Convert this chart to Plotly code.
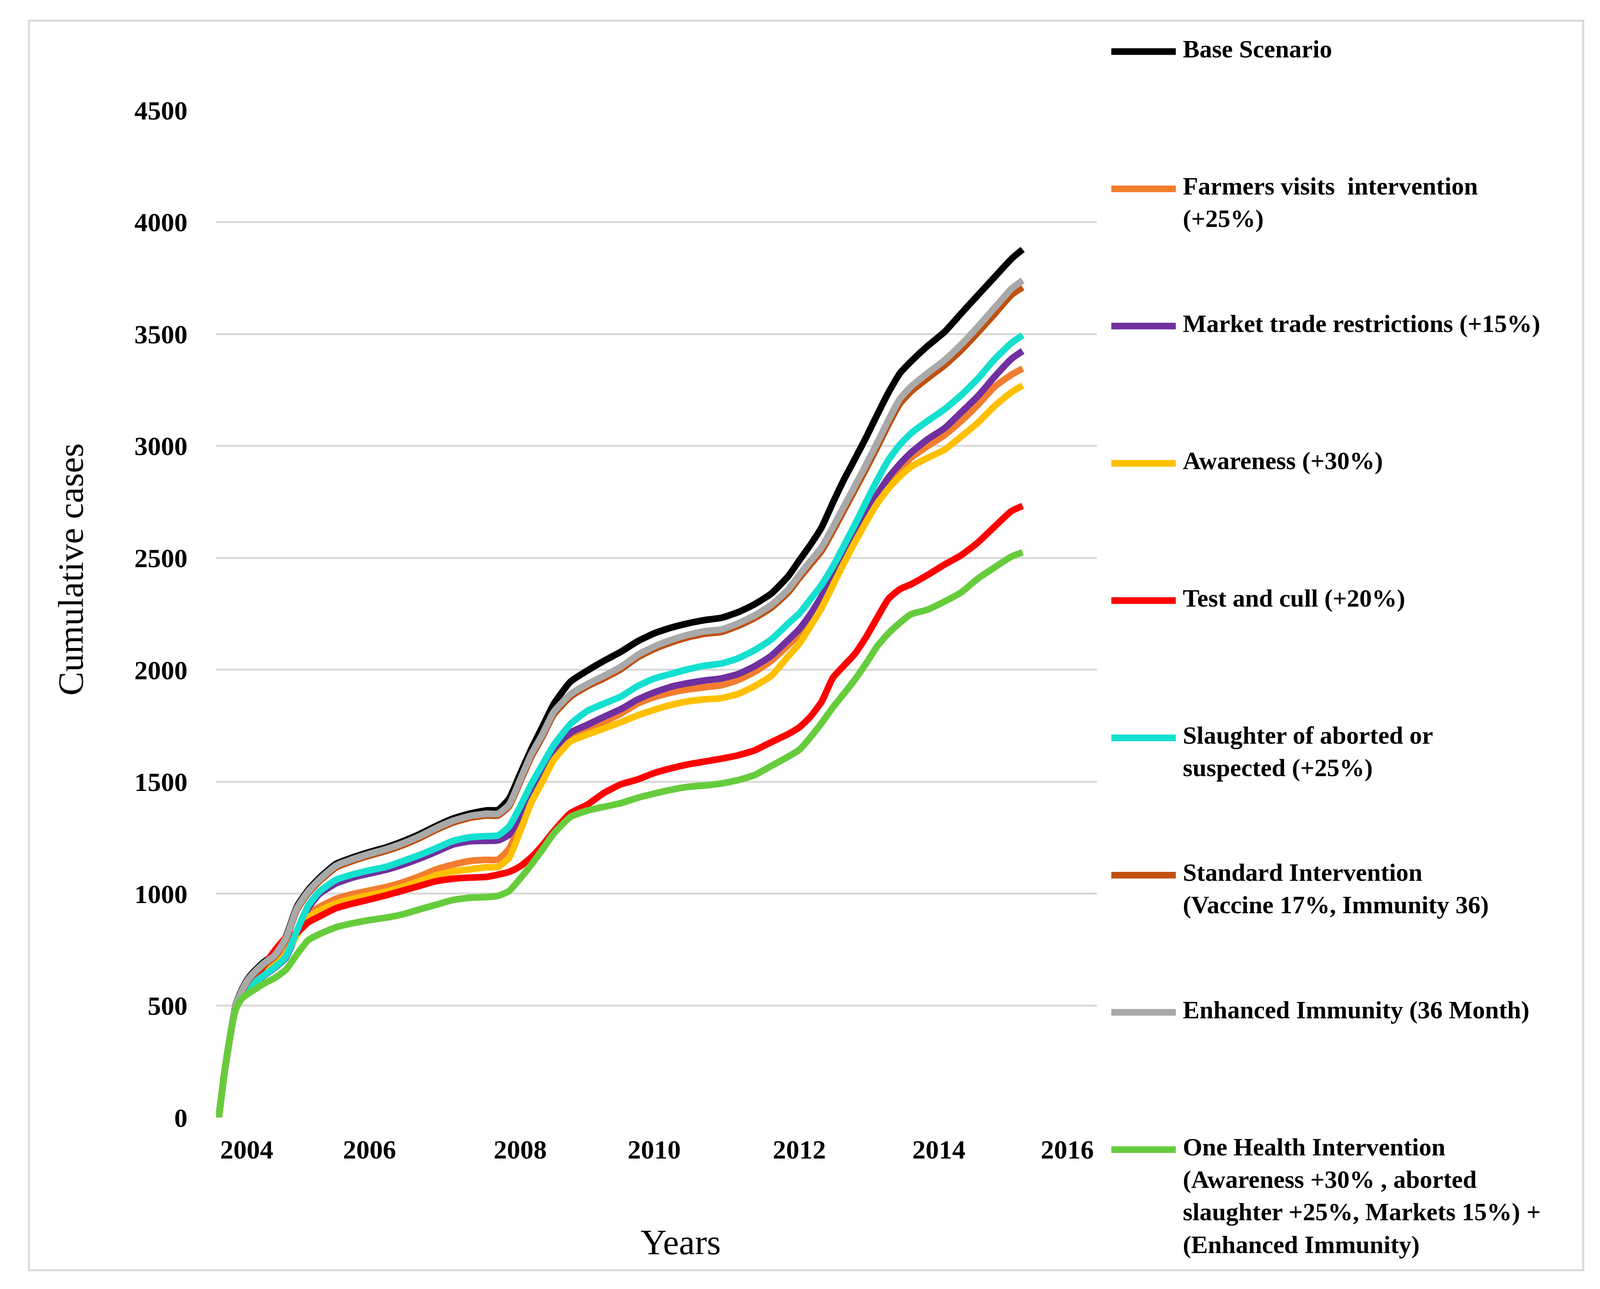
import plotly.graph_objects as go

# month index of every sampled point (category axis, one category per month)
months = [0, 1, 2, 3, 4, 5, 6, 8, 10, 12, 14, 16, 18, 21, 24, 27, 30, 33, 36, 39,
          42, 45, 48, 50, 52, 54, 56, 58, 60, 63, 66, 69, 72, 75, 78, 81, 84, 87, 90, 93,
          96, 99, 102, 104, 106, 108, 110, 112, 114, 116, 118, 120, 122, 124, 127, 130,
          133, 136, 139, 142, 144]

base_scenario = [0, 200, 360, 500, 565, 612, 645, 693, 730, 806, 942, 1016, 1070, 1133, 1162,
                 1186, 1207, 1234, 1266, 1303, 1336, 1358, 1372, 1374, 1424, 1536, 1647, 1747,
                 1847, 1947, 1996, 2040, 2080, 2127, 2163, 2188, 2207, 2222, 2232, 2257, 2293,
                 2341, 2418, 2489, 2559, 2637, 2746, 2850, 2944, 3040, 3142, 3240, 3324, 3377,
                 3447, 3509, 3592, 3674, 3755, 3836, 3878]
farmers_visits = [0, 200, 359, 490, 540, 570, 592, 640, 685, 735, 830, 909, 940, 977, 998,
                  1014, 1030, 1051, 1078, 1109, 1130, 1146, 1151, 1152, 1200, 1310, 1424, 1524,
                  1613, 1700, 1737, 1768, 1804, 1849, 1878, 1898, 1912, 1922, 1931, 1954, 1991,
                  2041, 2110, 2160, 2234, 2315, 2407, 2500, 2595, 2685, 2768, 2836, 2896, 2947,
                  3000, 3048, 3112, 3184, 3265, 3318, 3346]
market_trade = [0, 200, 359, 490, 544, 574, 594, 632, 668, 713, 825, 935, 998, 1046, 1072,
                1090, 1107, 1130, 1157, 1188, 1220, 1234, 1236, 1238, 1263, 1352, 1447, 1543,
                1624, 1719, 1754, 1790, 1824, 1867, 1899, 1924, 1940, 1952, 1961, 1981, 2016,
                2063, 2133, 2182, 2249, 2329, 2414, 2508, 2603, 2701, 2785, 2860, 2919, 2970,
                3030, 3079, 3150, 3223, 3310, 3389, 3424]
awareness = [0, 200, 359, 490, 540, 570, 590, 638, 680, 729, 815, 893, 924, 956, 977,
             993, 1009, 1030, 1056, 1083, 1099, 1109, 1118, 1120, 1160, 1280, 1408, 1502,
             1597, 1680, 1711, 1738, 1766, 1796, 1821, 1843, 1859, 1868, 1873, 1892, 1927,
             1974, 2060, 2117, 2195, 2277, 2377, 2477, 2572, 2662, 2745, 2811, 2864, 2907,
             2947, 2983, 3042, 3104, 3179, 3240, 3270]
test_and_cull = [0, 200, 359, 495, 550, 590, 610, 676, 745, 803, 825, 872, 898, 935, 956,
                 974, 993, 1014, 1035, 1056, 1067, 1072, 1075, 1085, 1097, 1122, 1163, 1217,
                 1279, 1360, 1397, 1450, 1488, 1510, 1539, 1560, 1577, 1590, 1603, 1618, 1640,
                 1677, 1713, 1743, 1791, 1858, 1964, 2019, 2073, 2148, 2235, 2318, 2360, 2382,
                 2424, 2470, 2512, 2569, 2640, 2709, 2732]
slaughter = [0, 200, 359, 490, 544, 576, 597, 634, 671, 718, 835, 946, 1009, 1062, 1086,
             1104, 1120, 1146, 1173, 1204, 1236, 1252, 1257, 1260, 1300, 1390, 1490, 1578,
             1663, 1758, 1816, 1849, 1880, 1927, 1961, 1982, 2002, 2018, 2028, 2051, 2088,
             2136, 2207, 2252, 2315, 2380, 2461, 2555, 2651, 2752, 2850, 2939, 3005, 3056,
             3112, 3164, 3227, 3301, 3388, 3460, 3495]
standard = [0, 200, 357, 494, 556, 602, 634, 681, 718, 794, 928, 1002, 1055, 1117, 1146,
            1170, 1191, 1217, 1249, 1286, 1318, 1339, 1349, 1349, 1390, 1500, 1612, 1702,
            1800, 1880, 1926, 1962, 2002, 2055, 2093, 2122, 2145, 2161, 2169, 2196, 2231,
            2278, 2346, 2410, 2471, 2532, 2620, 2713, 2806, 2900, 2997, 3097, 3188, 3243,
            3303, 3360, 3428, 3507, 3590, 3675, 3709]
enhanced_immunity = [0, 200, 359, 497, 560, 607, 639, 687, 724, 800, 935, 1009, 1062, 1125, 1154,
                     1178, 1199, 1225, 1257, 1294, 1326, 1347, 1357, 1357, 1398, 1510, 1624, 1713,
                     1812, 1891, 1936, 1973, 2013, 2066, 2104, 2133, 2156, 2172, 2180, 2207, 2243,
                     2290, 2359, 2424, 2486, 2548, 2637, 2731, 2824, 2919, 3017, 3118, 3210, 3265,
                     3326, 3383, 3453, 3533, 3618, 3702, 3740]
one_health = [0, 200, 359, 481, 528, 549, 565, 597, 623, 660, 729, 792, 819, 850, 868,
              882, 893, 908, 930, 951, 972, 982, 985, 990, 1012, 1068, 1130, 1198,
              1268, 1343, 1371, 1388, 1404, 1428, 1447, 1464, 1477, 1483, 1492, 1507, 1530,
              1571, 1612, 1643, 1699, 1763, 1832, 1894, 1958, 2030, 2107, 2164, 2210, 2248,
              2269, 2305, 2346, 2408, 2458, 2506, 2525]

series = [base_scenario, farmers_visits, market_trade, awareness, test_and_cull,
          slaughter, standard, enhanced_immunity, one_health]

names = [
    "Base Scenario",
    "Farmers visits  intervention (+25%)",
    "Market trade restrictions (+15%)",
    "Awareness (+30%)",
    "Test and cull (+20%)",
    "Slaughter of aborted or suspected (+25%)",
    "Standard Intervention (Vaccine 17%, Immunity 36)",
    "Enhanced Immunity (36 Month)",
    "One Health Intervention (Awareness +30% , aborted slaughter +25%, Markets 15%) + (Enhanced Immunity)",
]
legend_text = [
    "Base Scenario",
    "Farmers visits  intervention<br>(+25%)",
    "Market trade restrictions (+15%)",
    "Awareness (+30%)",
    "Test and cull (+20%)",
    "Slaughter of aborted or<br>suspected (+25%)",
    "Standard Intervention<br>(Vaccine 17%, Immunity 36)",
    "Enhanced Immunity (36 Month)",
    "One Health Intervention<br>(Awareness +30% , aborted<br>slaughter +25%, Markets 15%) +<br>(Enhanced Immunity)",
]
colors = ["#000000", "#F27D2E", "#7030A0", "#FFC000", "#FF0000",
          "#14E0D0", "#C0500F", "#A9A9A9", "#66CC3C"]

year_tick_pos = [5, 27, 54, 78, 104, 129, 152]
year_labels = ["2004", "2006", "2008", "2010", "2012", "2014", "2016"]
y_ticks = [0, 500, 1000, 1500, 2000, 2500, 3000, 3500, 4000, 4500]

FONT = "Palatino Linotype, Book Antiqua, Liberation Serif, serif"

# plot area in page pixels
W, H = 4129, 3300
L, R, T, B = 545, 2800, 274, 2853


def px_x(px):
    return (px - L) / (R - L)


def px_y(py):
    return (B - py) / (B - T)


fig = go.Figure()

for name, ys, color in zip(names, series, colors):
    fig.add_trace(
        go.Scatter(
            x=months,
            y=ys,
            name=name,
            mode="lines",
            line=dict(color=color, width=17, shape="spline", smoothing=0.5),
            showlegend=False,
        )
    )

# hand-drawn legend on the right, one entry every ~351 px
shapes = []
annotations = []
for i, (label, color) in enumerate(zip(legend_text, colors)):
    yc = 124 + i * 351.4
    shapes.append(dict(type="line", xref="paper", yref="paper",
                       x0=px_x(2837), x1=px_x(3002), y0=px_y(yc), y1=px_y(yc),
                       line=dict(color=color, width=17)))
    annotations.append(dict(xref="paper", yref="paper", x=px_x(3018), y=px_y(yc - 44),
                            xanchor="left", yanchor="top", align="left", showarrow=False,
                            text=label, font=dict(family=FONT, size=64, color="#000000",
                                                  weight="bold")))

# outer frame
shapes.append(dict(type="rect", xref="paper", yref="paper",
                   x0=px_x(66), x1=px_x(4045), y0=px_y(3244), y1=px_y(45),
                   line=dict(color="#D9D9D9", width=5)))

# axis titles
annotations.append(dict(xref="paper", yref="paper", x=px_x(1734), y=px_y(3172),
                        xanchor="center", yanchor="middle",
                        text="Years", showarrow=False,
                        font=dict(family=FONT, size=92, color="#000000")))
annotations.append(dict(xref="paper", yref="paper", x=px_x(173), y=px_y(1450),
                        xanchor="center", yanchor="middle",
                        text="Cumulative cases", textangle=-90, showarrow=False,
                        font=dict(family=FONT, size=92, color="#000000")))

fig.update_layout(
    width=W,
    height=H,
    margin=dict(l=L, r=W - R, t=T, b=H - B, autoexpand=False),
    plot_bgcolor="white",
    paper_bgcolor="white",
    showlegend=False,
    shapes=shapes,
    annotations=annotations,
    font=dict(family=FONT, color="#000000"),
)

fig.update_xaxes(
    range=[-0.5, 157.3],
    tickvals=year_tick_pos,
    ticktext=year_labels,
    showgrid=False,
    zeroline=False,
    showline=False,
    ticks="",
    ticklabelstandoff=36,
    tickfont=dict(family=FONT, size=68, color="#000000", weight="bold"),
)
fig.update_yaxes(
    range=[0, 4500],
    tickvals=y_ticks,
    tickformat="d",
    showgrid=True,
    gridcolor="#D9D9D9",
    gridwidth=5,
    zeroline=False,
    showline=False,
    ticks="",
    ticklabelstandoff=72,
    tickfont=dict(family=FONT, size=68, color="#000000", weight="bold"),
)

fig.write_html("out.html")
